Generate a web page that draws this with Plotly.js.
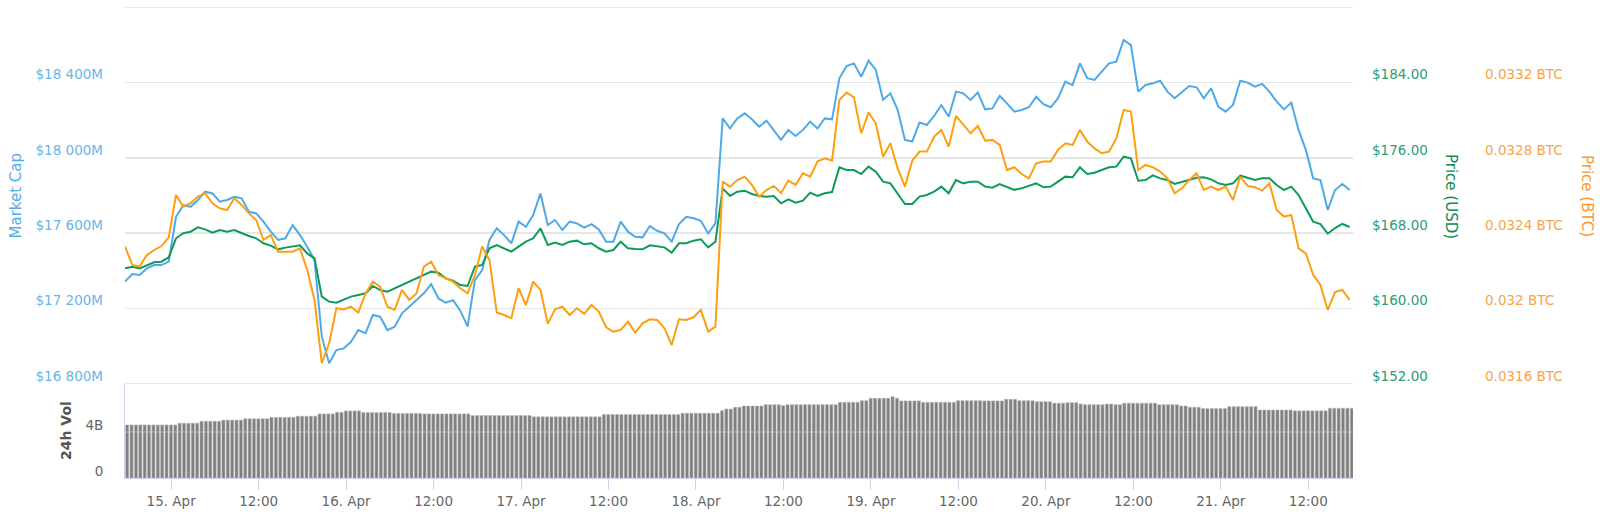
<!DOCTYPE html>
<html>
<head>
<meta charset="utf-8">
<script src="https://cdn.plot.ly/plotly-3.0.1.min.js"></script>
<style>
html,body{margin:0;padding:0;background:#fff;}
#chart{width:1600px;height:519px;}
</style>
</head>
<body>
<div id="chart"></div>
<script>
// ---- data (hourly samples from 14 Apr 17:40) ----
var marketCapM = [
17343,17383,17378,17413,17431,17431,17449,17687,17749,17740,
17776,17820,17811,17767,17776,17793,17785,17714,17705,17661,
17608,17564,17573,17643,17590,17528,17458,17051,16910,16980,
16989,17024,17086,17069,17166,17157,17086,17104,17175,17210,
17245,17281,17330,17254,17231,17245,17189,17104,17351,17404,
17564,17626,17590,17546,17661,17634,17696,17811,17643,17670,
17617,17661,17652,17629,17648,17620,17555,17555,17661,17608,
17581,17578,17638,17613,17599,17555,17648,17687,17679,17666,
17599,17652,18209,18156,18209,18236,18204,18165,18197,18148,
18095,18148,18116,18148,18192,18156,18209,18204,18422,18487,
18501,18430,18515,18466,18307,18342,18254,18095,18086,18187,
18174,18222,18280,18218,18351,18342,18307,18346,18257,18262,
18328,18289,18245,18254,18268,18324,18285,18268,18316,18404,
18386,18501,18422,18413,18457,18501,18510,18625,18598,18351,
18386,18395,18409,18351,18316,18351,18381,18374,18316,18369,
18271,18245,18280,18409,18399,18377,18392,18351,18298,18257,
18293,18148,18042,17891,17882,17723,17829,17861,17829
];
var priceUSD = [
164.27,164.45,164.27,164.63,164.91,164.98,165.44,167.46,167.99,168.16,
168.62,168.41,168.06,168.34,168.16,168.34,167.99,167.70,167.46,166.93,
166.68,166.29,166.47,166.57,166.71,165.86,165.33,161.27,160.74,160.63,
160.91,161.27,161.44,161.62,162.40,161.97,161.80,162.15,162.51,162.86,
163.21,163.57,163.92,163.81,163.21,162.96,162.50,162.40,164.45,164.63,
166.40,166.75,166.40,166.04,166.57,167.10,167.46,168.52,166.75,167.00,
166.75,167.10,167.21,166.82,166.93,166.40,166.04,166.22,167.10,166.40,
166.33,166.29,166.71,166.57,166.50,165.94,166.93,166.93,167.21,167.35,
166.50,167.10,172.76,171.95,172.41,172.51,172.16,171.95,171.88,171.95,
171.17,171.59,171.24,171.45,172.30,171.95,172.23,172.37,174.99,174.70,
174.70,174.28,175.06,174.53,173.47,173.29,172.23,171.10,171.10,171.88,
172.05,172.41,172.94,172.23,173.64,173.29,173.47,173.47,172.94,172.83,
173.22,172.94,172.60,172.76,173.01,173.29,172.87,172.94,173.47,174.00,
173.93,174.99,174.28,174.42,174.70,174.99,175.06,176.12,175.94,173.57,
173.64,174.14,173.82,173.64,173.22,173.47,173.71,173.89,173.93,173.71,
173.29,173.11,173.29,174.10,173.89,173.64,173.82,173.82,173.11,172.58,
172.94,172.05,170.64,169.22,168.97,167.95,168.55,168.98,168.66
];
var priceBTC = [
0.032329,0.032232,0.032223,0.032284,0.032311,0.032332,0.032378,0.032603,0.032541,0.032559,
0.032594,0.032612,0.032559,0.032532,0.032523,0.032585,0.032550,0.032505,0.032470,0.032364,
0.032391,0.032302,0.032302,0.032302,0.032320,0.032205,0.032046,0.031710,0.031816,0.032002,
0.031996,0.032010,0.031979,0.032081,0.032143,0.032117,0.032010,0.031993,0.032099,0.032046,
0.032081,0.032223,0.032249,0.032178,0.032161,0.032143,0.032108,0.032081,0.032178,0.032329,
0.032258,0.031979,0.031966,0.031949,0.032108,0.032019,0.032143,0.032099,0.031919,0.031996,
0.032010,0.031966,0.032002,0.031972,0.032019,0.031984,0.031901,0.031878,0.031887,0.031931,
0.031873,0.031922,0.031943,0.031940,0.031896,0.031807,0.031943,0.031940,0.031954,0.031993,
0.031878,0.031904,0.032674,0.032647,0.032682,0.032700,0.032656,0.032594,0.032629,0.032651,
0.032612,0.032679,0.032656,0.032718,0.032700,0.032780,0.032797,0.032785,0.033107,0.033146,
0.033121,0.032930,0.033040,0.032983,0.032806,0.032877,0.032744,0.032647,0.032785,0.032833,
0.032833,0.032912,0.032948,0.032859,0.033022,0.032974,0.032930,0.032969,0.032891,0.032895,
0.032868,0.032735,0.032750,0.032714,0.032691,0.032771,0.032780,0.032780,0.032842,0.032877,
0.032868,0.032948,0.032886,0.032850,0.032824,0.032833,0.032903,0.033054,0.033045,0.032735,
0.032762,0.032750,0.032727,0.032691,0.032612,0.032638,0.032682,0.032718,0.032629,0.032647,
0.032629,0.032647,0.032576,0.032700,0.032651,0.032644,0.032626,0.032665,0.032523,0.032488,
0.032497,0.032320,0.032293,0.032179,0.032125,0.031993,0.032088,0.032099,0.032046
];
// 24h volume in billions USD, one bar every 36 minutes from 14 Apr 17:58
var volume24hB = [
4.61,4.61,4.61,4.61,4.61,4.61,4.61,4.61,4.61,4.61,4.61,4.61,
4.76,4.76,4.76,4.76,4.76,
4.93,4.93,4.93,4.93,4.93,
5.03,5.03,5.03,5.03,5.03,
5.15,5.15,5.15,5.15,5.15,5.15,
5.27,5.27,5.27,5.27,5.27,5.27,
5.37,5.37,5.37,5.37,5.37,
5.57,5.57,5.57,5.57,
5.71,5.71,
5.83,5.83,5.83,5.83,
5.69,5.69,5.69,5.69,5.69,5.69,5.69,
5.61,5.61,5.61,5.61,5.61,5.61,5.61,
5.57,5.57,5.57,5.57,5.57,5.57,5.57,5.57,5.57,5.57,5.57,
5.43,5.43,5.43,5.43,5.43,5.43,5.43,5.43,5.43,5.43,5.43,5.43,5.43,5.43,
5.32,5.32,5.32,5.32,5.32,5.32,5.32,5.32,5.32,5.32,5.32,5.32,5.32,5.32,5.32,5.32,
5.52,5.52,5.52,5.52,5.52,5.52,5.52,5.52,5.52,5.52,5.52,5.52,5.52,5.52,5.52,5.52,5.52,5.52,
5.63,5.63,5.63,5.63,5.63,5.63,5.63,5.63,5.63,
5.85,
6.00,6.00,
6.15,6.15,
6.26,6.26,6.26,6.26,6.26,
6.37,6.37,6.37,6.37,
6.30,
6.37,6.37,6.37,6.37,6.37,6.37,6.37,6.37,6.37,6.37,6.37,6.37,
6.58,6.58,6.58,6.58,6.58,
6.72,6.72,
6.93,6.93,6.93,6.93,6.93,
7.07,
6.93,
6.70,6.70,6.70,6.70,6.70,
6.58,6.58,6.58,6.58,6.58,6.58,6.58,6.58,
6.72,6.72,6.72,6.72,6.72,6.72,
6.70,6.70,6.70,6.70,6.70,
6.84,6.84,6.84,
6.72,6.72,6.72,6.72,
6.63,6.63,6.63,6.63,
6.50,6.50,6.50,
6.55,6.55,6.55,
6.43,
6.37,6.37,6.37,6.37,6.37,
6.43,6.43,
6.37,6.37,
6.50,6.50,6.50,6.50,6.50,6.50,6.50,6.50,
6.37,6.37,6.37,6.37,6.37,
6.26,6.26,
6.15,6.15,6.15,
6.04,6.04,6.04,6.04,6.04,6.04,
6.20,6.20,6.20,6.20,6.20,6.20,6.20,
5.91,5.91,5.91,5.91,5.91,5.91,5.91,5.91,
5.84,5.84,5.84,5.84,5.84,5.84,5.84,5.84,
6.06,6.06,6.06,6.06,6.06,6.06
];
var xTickVals = ['2018-04-15 00:00','2018-04-15 12:00','2018-04-16 00:00','2018-04-16 12:00',
  '2018-04-17 00:00','2018-04-17 12:00','2018-04-18 00:00','2018-04-18 12:00',
  '2018-04-19 00:00','2018-04-19 12:00','2018-04-20 00:00','2018-04-20 12:00',
  '2018-04-21 00:00','2018-04-21 12:00'];
var xTickText = ['15. Apr','12:00','16. Apr','12:00','17. Apr','12:00','18. Apr','12:00',
  '19. Apr','12:00','20. Apr','12:00','21. Apr','12:00'];
var mcTickVals = [16800,17200,17600,18000,18400,18800];
var mcTickText = ['$16 800M','$17 200M','$17 600M','$18 000M','$18 400M',''];
var usdTickVals = [152,160,168,176,184];
var usdTickText = ['$152.00','$160.00','$168.00','$176.00','$184.00'];
var btcTickVals = [0.0316,0.0320,0.0324,0.0328,0.0332];
var btcTickText = ['0.0316 BTC','0.032 BTC','0.0324 BTC','0.0328 BTC','0.0332 BTC'];
var volTickVals = [0,4];
var volTickText = ['0','4B'];

// ---- timestamps ----
function fmt(ms){ return new Date(ms).toISOString().slice(0,19).replace('T',' '); }
var t0 = Date.UTC(2018,3,14,17,40);
var lineTimes = marketCapM.map(function(_,i){ return fmt(t0 + i*3600e3); });
var barT0 = Date.UTC(2018,3,14,17,58);
var barTimes = volume24hB.map(function(_,k){ return fmt(barT0 + k*36*60e3); });

var W = 1600, H = 519;
var px = function(x){ return x / W; };
var py = function(y){ return 1 - y / H; };
var FONT = 'DejaVu Sans, Verdana, sans-serif';

var traces = [
  {type:'scatter', mode:'lines', x: lineTimes, y: marketCapM, xaxis:'x', yaxis:'y',
   line:{color:'#4eaae6', width:2}, hoverinfo:'skip'},
  {type:'scatter', mode:'lines', x: lineTimes, y: priceUSD, xaxis:'x', yaxis:'y2',
   line:{color:'#0f9a5a', width:2}, hoverinfo:'skip'},
  {type:'scatter', mode:'lines', x: lineTimes, y: priceBTC, xaxis:'x', yaxis:'y3',
   line:{color:'#fd9f10', width:2}, hoverinfo:'skip'},
  {type:'bar', x: barTimes, y: volume24hB, xaxis:'x', yaxis:'y4',
   marker:{color:'#7f7f7f', line:{color:'#b8b8b8', width:0.6}}, hoverinfo:'skip'}
];

var layout = {
  width: W, height: H,
  margin:{l:0, r:0, t:0, b:0},
  paper_bgcolor:'#ffffff', plot_bgcolor:'rgba(0,0,0,0)',
  showlegend:false,
  bargap:0.28,
  font:{family: FONT},
  xaxis:{
    type:'date', domain:[px(125), px(1353)],
    range:['2018-04-14 17:40','2018-04-21 18:08'],
    anchor:'y4', showgrid:false, zeroline:false,
    showline:true, linecolor:'#ccd6eb', linewidth:1,
    ticks:'outside', ticklen:11, tickwidth:1, tickcolor:'#ccd6eb',
    tickvals: xTickVals, ticktext: xTickText,
    tickfont:{family:FONT, size:13.5, color:'#666666'}
  },
  yaxis:{
    domain:[py(384), py(7)], range:[16800,18800], anchor:'x',
    tickvals: mcTickVals, ticktext: mcTickText,
    showgrid:true, gridcolor:'#e6e6e6', gridwidth:1.5, zeroline:false, showline:false,
    ticks:'', ticklabelshift:-8, ticklabelstandoff:21,
    tickfont:{family:FONT, size:13.5, color:'#6ab4e8'}
  },
  yaxis2:{
    overlaying:'y', side:'right', anchor:'x', range:[152,192],
    tickvals: usdTickVals, ticktext: usdTickText,
    showgrid:false, zeroline:false, showline:false, ticks:'',
    ticklabelshift:-8, ticklabelstandoff:18,
    tickfont:{family:FONT, size:13.5, color:'#2a9d74'}
  },
  yaxis3:{
    overlaying:'y', side:'right', anchor:'free', position:0.925, range:[0.0316,0.0336],
    tickvals: btcTickVals, ticktext: btcTickText,
    showgrid:false, zeroline:false, showline:false, ticks:'',
    ticklabelshift:-8, ticklabelstandoff:4,
    tickfont:{family:FONT, size:13.5, color:'#f8a449'}
  },
  yaxis4:{
    domain:[py(478), py(384)], range:[0,8.17], anchor:'x',
    tickvals: volTickVals, ticktext: volTickText,
    showgrid:true, gridcolor:'#e6e6e6', gridwidth:1, zeroline:false,
    showline:true, linecolor:'#ccd6eb', linewidth:1,
    ticks:'', ticklabelshift:-7, ticklabelstandoff:18,
    tickfont:{family:FONT, size:13.5, color:'#666666'}
  },
  shapes:[
    {type:'line', xref:'x domain', yref:'y', x0:0, x1:1, y0:18800, y1:18800, layer:'below',
     line:{color:'#e6e6e6', width:1.5}},
    {type:'line', xref:'x domain', yref:'y', x0:0, x1:1, y0:16800, y1:16800, layer:'below',
     line:{color:'#e6e6e6', width:2}},
    {type:'line', xref:'x domain', yref:'y4', x0:0, x1:1, y0:4, y1:4, layer:'above',
     line:{color:'rgba(225,225,225,0.55)', width:1}}
  ],
  annotations:[
    {text:'Market Cap', xref:'paper', yref:'paper', x:px(15), y:py(195.5), textangle:-90,
     showarrow:false, xanchor:'center', yanchor:'middle',
     font:{family:FONT, size:15, color:'#55ace6'}},
    {text:'Price (USD)', xref:'paper', yref:'paper', x:px(1451), y:py(196), textangle:90,
     showarrow:false, xanchor:'center', yanchor:'middle',
     font:{family:FONT, size:15, color:'#0f8c52'}},
    {text:'Price (BTC)', xref:'paper', yref:'paper', x:px(1587), y:py(196), textangle:90,
     showarrow:false, xanchor:'center', yanchor:'middle',
     font:{family:FONT, size:15, color:'#fb9a2c'}},
    {text:'<b>24h Vol</b>', xref:'paper', yref:'paper', x:px(66), y:py(431), textangle:-90,
     showarrow:false, xanchor:'center', yanchor:'middle',
     font:{family:FONT, size:14, color:'#555555'}}
  ]
};

Plotly.newPlot('chart', traces, layout, {staticPlot:true, displayModeBar:false});
</script>
</body>
</html>
